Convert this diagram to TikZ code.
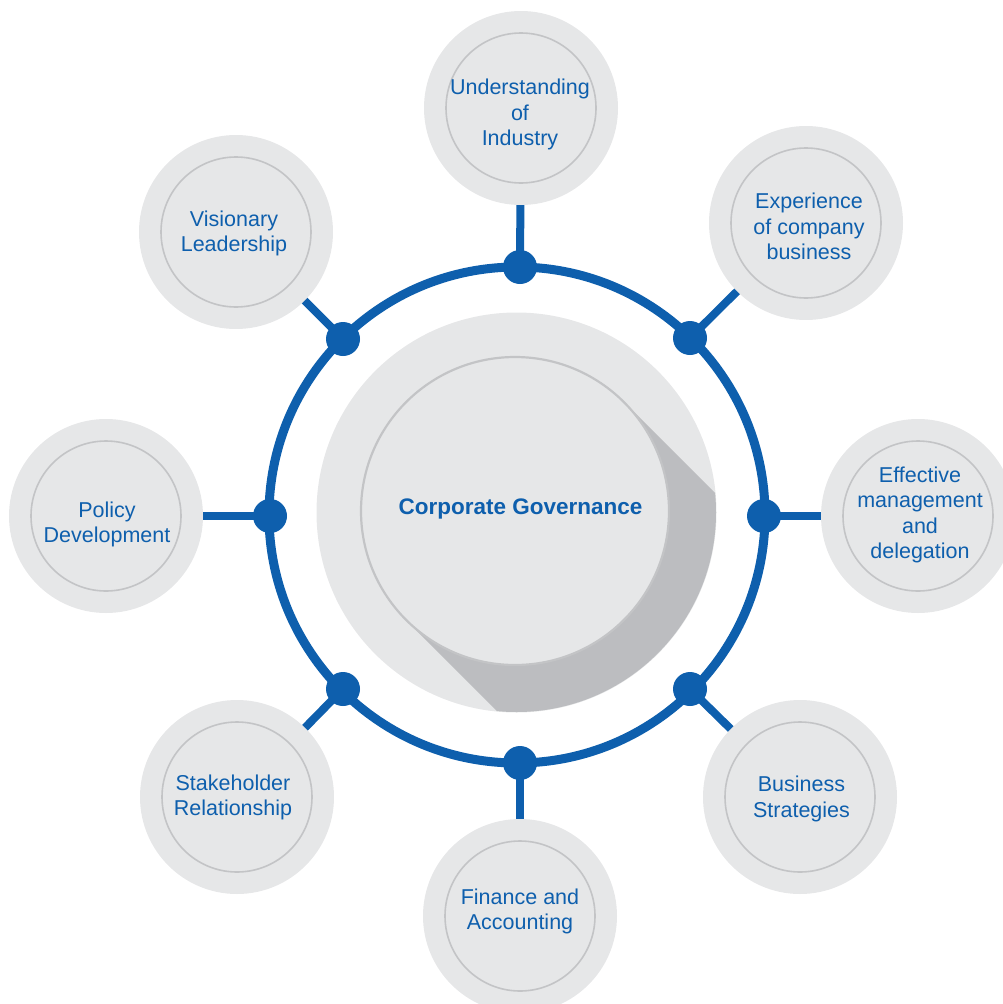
\documentclass[tikz,border=0pt]{standalone}
\usepackage{fontspec}
\setmainfont{Liberation Sans}
\usetikzlibrary{backgrounds}
\definecolor{cgray}{HTML}{E6E7E8}
\definecolor{cline}{HTML}{C3C4C6}
\definecolor{cshadow}{HTML}{BCBDC0}
\definecolor{cblue}{HTML}{0E5FAD}
\tikzset{
  sat/.style={circle, fill=cgray, minimum size=194pt, inner sep=0pt,
    path picture={\draw[cline, line width=1.6pt] (path picture bounding box.center) circle (75pt);}},
  lbl/.style={align=center, text=cblue, inner sep=0pt, font=\fontsize{21.5}{25.5}\selectfont},
  dotnode/.style={circle, fill=cblue, minimum size=34pt, inner sep=0pt},
  conn/.style={draw=cblue, line width=8pt},
  ringline/.style={draw=cblue, line width=9pt},
}
\begin{document}
\begin{tikzpicture}[x=1pt,y=-1pt]
\useasboundingbox (0,0) rectangle (1003,1004);
\clip (0,0) rectangle (1003,1004);
% central disc
\node[circle, fill=cgray, minimum size=400pt, inner sep=0pt] (core) at (516.5,512.5) {};
\begin{scope}
  \clip (516.5,512.5) circle (199.5);
  \fill[cshadow] (624,402) -- (1124,902) -- (906,1120) -- (406,620) -- cycle;
\end{scope}
\node[circle, fill=cgray, draw=cline, line width=2.2pt, minimum size=308pt, inner sep=0pt] (inner) at (515,511) {};
\node[text=cblue, font=\bfseries\fontsize{22.5}{27}\selectfont] (title) at (520.5,509) {Corporate Governance};
% satellites
\node[sat] (s1) at (521,108) {};
\node[sat] (s2) at (806,223) {};
\node[sat] (s3) at (918,516) {};
\node[sat] (s4) at (800,797) {};
\node[sat] (s5) at (520,916) {};
\node[sat] (s6) at (237,797) {};
\node[sat] (s7) at (106,516) {};
\node[sat] (s8) at (236,232) {};
% labels
\node[lbl] (t1) at (520,114.5) {Understanding\\of\\Industry};
\node[lbl] (t2) at (809,226.5) {Experience\\of company\\business};
\node[lbl] (t3) at (920,515) {Effective\\management\\and\\delegation};
\node[lbl] (t4) at (801.5,799) {Business\\Strategies};
\node[lbl] (t5) at (520,911.5) {Finance and\\Accounting};
\node[lbl] (t6) at (233,797.5) {Stakeholder\\Relationship};
\node[lbl] (t7) at (107,524.5) {Policy\\Development};
\node[lbl] (t8) at (234,233.5) {Visionary\\Leadership};
% dots
\node[dotnode] (d1) at (520,267) {};
\node[dotnode] (d2) at (690,338) {};
\node[dotnode] (d3) at (764,516) {};
\node[dotnode] (d4) at (690,689) {};
\node[dotnode] (d5) at (520,763) {};
\node[dotnode] (d6) at (343,689) {};
\node[dotnode] (d7) at (270,516) {};
\node[dotnode] (d8) at (343,339) {};
\begin{scope}[on background layer]
  \coordinate (ringc) at (517,515);
  \draw[ringline] (ringc) circle (248);
  \foreach \i in {1,...,8} {\draw[conn] (d\i.center) -- (s\i.center);}
\end{scope}
\end{tikzpicture}
\end{document}
